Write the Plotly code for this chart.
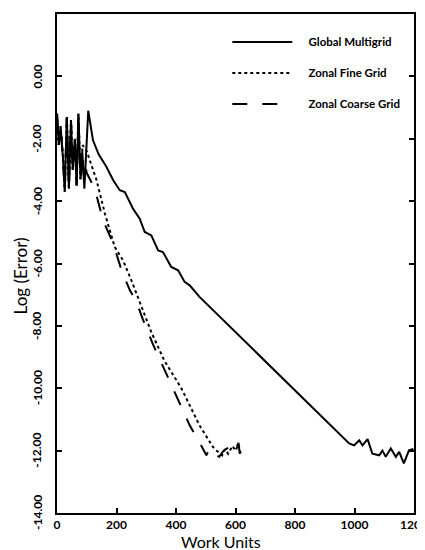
import plotly.graph_objects as go

# ---- data ----
global_x = [0, 6, 12, 20, 26, 33, 40, 47, 53, 60, 66, 72, 79, 85, 92, 98, 105,
            121, 140, 166, 189, 211, 228, 256, 278, 295, 317, 340, 356, 384, 407,
            429, 446, 479, 591, 982, 999, 1016, 1027, 1044, 1060, 1083, 1094,
            1105, 1122, 1139, 1150, 1166, 1183, 1198]
global_y = [-1.2, -2.2, -1.6, -2.6, -3.7, -1.3, -3.6, -1.4, -3.0, -2.0, -3.5, -1.2,
            -3.3, -2.4, -3.6, -2.2, -1.1,
            -2.05, -2.5, -2.9, -3.33, -3.65, -3.71, -4.25, -4.56, -4.99, -5.1, -5.58,
            -5.63, -6.11, -6.22, -6.59, -6.7, -7.07, -8.12, -11.77, -11.83, -11.67,
            -11.83, -11.63, -12.1, -12.15, -12.0, -12.2, -11.93, -12.2, -12.04,
            -12.41, -11.99, -11.95]

fine_x = [0, 6, 12, 20, 26, 33, 40, 47, 53, 60, 66, 72, 79, 86, 92, 100, 133, 161,
          194, 222, 250, 278, 317, 360, 418, 479, 524, 541, 555, 565, 575, 590,
          600, 610, 619]
fine_y = [-1.2, -2.2, -1.6, -2.6, -3.7, -1.3, -3.6, -1.4, -3.0, -2.0, -3.5, -1.2,
          -3.3, -2.2, -2.3, -2.4, -3.33, -4.4, -5.47, -5.9, -6.54, -7.25, -8.2,
          -9.1, -10.0, -11.19, -11.88, -12.04, -12.15, -11.95, -12.1, -11.85,
          -12.0, -11.8, -12.15]

coarse_x = [0, 6, 12, 20, 26, 33, 40, 47, 53, 60, 66, 72, 79, 90, 100, 127, 155,
            189, 217, 245, 267, 289, 323, 390, 446, 490, 502, 513, 530, 545, 560,
            580, 595, 610, 615]
coarse_y = [-1.2, -2.2, -1.6, -2.6, -3.7, -1.3, -3.6, -1.4, -3.0, -2.0, -3.5, -1.2,
            -3.3, -2.6, -3.1, -3.6, -4.62, -5.36, -6.22, -6.86, -7.23, -7.8, -8.6,
            -10.0, -11.19, -11.93, -12.15, -11.93, -12.1, -12.2, -12.0, -11.88,
            -12.05, -11.75, -12.15]

x_ticks = [0, 200, 400, 600, 800, 1000, 1200]
x_labels = ["0", "200", "400", "600", "800", "1000", "1200"]
y_ticks = [0, -2, -4, -6, -8, -10, -12, -14]
y_labels = ["0.00", "-2.00", "-4.00", "-6.00", "-8.00", "-10.00", "-12.00", "-14.00"]

series_names = ["Global Multigrid", "Zonal Fine Grid", "Zonal Coarse Grid"]
x_title = "Work Units"
y_title = "Log (Error)"

# ---- figure ----
pad = "\u00a0" * 4  # gap between legend sample and legend text
fig = go.Figure()
fig.add_trace(go.Scatter(x=global_x, y=global_y, mode="lines",
                         name=pad + series_names[0], legendgroup="a",
                         line=dict(color="black", width=2, dash="solid")))
fig.add_trace(go.Scatter(x=fine_x, y=fine_y, mode="lines",
                         name=pad + series_names[1], legendgroup="b",
                         line=dict(color="black", width=2, dash="dot")))
fig.add_trace(go.Scatter(x=coarse_x, y=coarse_y, mode="lines",
                         name=pad + series_names[2], legendgroup="c",
                         line=dict(color="black", width=2, dash="longdash")))

tickfont = dict(family="Lato", size=12, color="black", weight="bold")

# rotated y tick labels, centred on their ticks
annotations = []
for v, t in zip(y_ticks, y_labels):
    annotations.append(dict(x=0, xref="paper", y=v, yref="y", text=t,
                            textangle=-90, showarrow=False, xanchor="center",
                            yanchor="middle", xshift=-20, font=tickfont))
annotations.append(dict(x=0, xref="paper", y=0.474, yref="paper", text=y_title,
                        textangle=-90, showarrow=False, xanchor="center",
                        yanchor="middle", xshift=-37,
                        font=dict(family="Lato", size=17, color="black")))
annotations.append(dict(x=0.458, xref="paper", y=0, yref="paper", text=x_title,
                        showarrow=False, xanchor="center", yanchor="middle",
                        yshift=-28,
                        font=dict(family="Lato", size=16, color="black")))

# the page body adds an 8px offset, so the figure is sized to fit the window
fig.update_layout(
    width=417, height=542,
    margin=dict(l=49, r=11, t=6, b=37, autoexpand=False),
    paper_bgcolor="white", plot_bgcolor="white",
    showlegend=True,
    legend=dict(x=0.477, y=0.973, xanchor="left", yanchor="top",
                bgcolor="rgba(0,0,0,0)", itemwidth=60, tracegroupgap=12,
                font=dict(family="Lato", size=11.5, color="black", weight="bold")),
    xaxis=dict(range=[0, 1200], tickvals=x_ticks, ticktext=x_labels,
               ticks="inside", ticklen=5, tickwidth=1.5, tickcolor="black",
               showline=True, linecolor="black", linewidth=2, mirror=True,
               showgrid=False, zeroline=False, tickfont=tickfont,
               ticklabeloverflow="allow", automargin=False),
    yaxis=dict(range=[-14, 2], tickvals=y_ticks, ticktext=y_labels,
               ticks="inside", ticklen=5, tickwidth=1.5, tickcolor="black",
               showline=True, linecolor="black", linewidth=2, mirror="ticks",
               showgrid=False, zeroline=False, showticklabels=False,
               automargin=False),
    annotations=annotations,
)

fig.write_html("out.html")
